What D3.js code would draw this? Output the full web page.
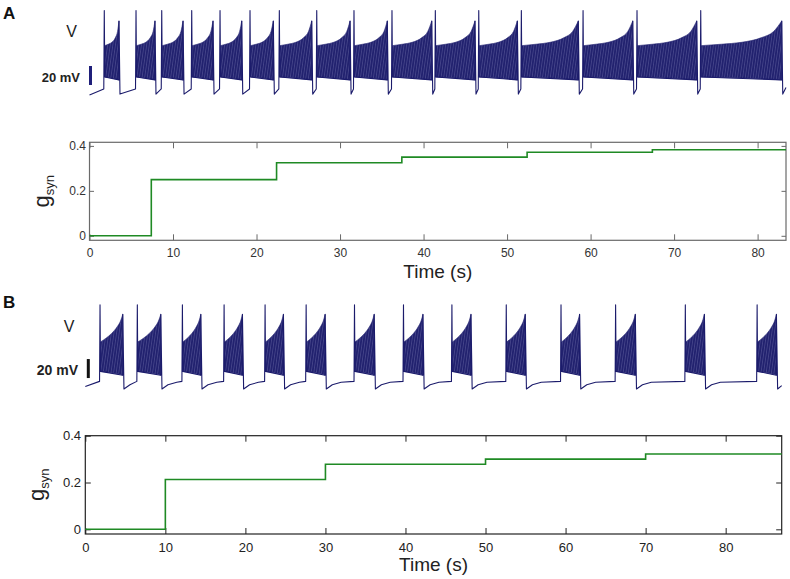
<!DOCTYPE html>
<html><head><meta charset="utf-8">
<script src="https://cdn.jsdelivr.net/npm/d3@7"></script>
<style>
html,body{margin:0;padding:0;background:#fff;}
svg{display:block;font-family:"Liberation Sans",Arial,Helvetica,sans-serif;}
</style></head>
<body>
<svg id="chart" width="790" height="579"></svg>
<script>
// ---------- DATA ----------
// Panel A: burst onset / offset times (s)
const burstOnA  = [1.77, 5.57, 8.65, 12.24, 15.63, 19.22, 22.73, 27.21, 31.67, 36.22, 41.41, 46.61, 51.71, 59.10, 65.56, 73.19];
const burstOffA = [3.53, 7.84, 11.20, 14.79, 18.23, 22.01, 26.61, 31.20, 35.66, 40.98, 46.16, 51.23, 58.53, 65.05, 72.71, 82.89];
// Panel B: burst onset / offset times (s)
const burstOnB  = [1.84, 6.50, 12.13, 17.34, 22.46, 27.59, 33.63, 39.75, 45.80, 52.59, 59.43, 66.25, 74.96, 83.93];
const burstOffB = [4.68, 9.43, 14.43, 19.63, 24.75, 29.96, 36.09, 42.18, 48.18, 54.96, 61.75, 68.71, 77.34, 86.34];
// burst envelope profile (fraction of burst duration) and envelope voltages (mV)
const bandFrac = [0, 0.25, 0.5, 0.75, 0.9, 1];
const bandTopA = [-7, -5.5, -3.5, 1.5, 8, 19];
const bandBotA = [-40, -40.5, -41, -42, -42.5, -43];
const bandTopB = [-9, -5, 0, 7, 13, 20];
const bandBotB = [-40, -40.5, -41.5, -42.5, -43, -44];
// characteristic voltages (mV)
const spikePeak = 30;
const vStartA = -59, vPreA = -52.6, vEndA = -51;
const vStartB = -56, vPreB = -50.5, vEndB = -55;
// inter-burst recovery: time after burst end (s) and voltage (mV)
const recovDtA = [0.12];
const recovVA  = [-58];
const recovDtB = [0.15, 0.9, 2.0];
const recovVB  = [-58.5, -54, -51.5];
const scaleBarMV = 20;
// synaptic conductance steps
const gStepTA = [0, 7.4, 22.4, 37.4, 52.4, 67.4];
const gValA   = [0, 0.25, 0.325, 0.35, 0.372, 0.383];
const gEndA = 83.4;
const gStepTB = [0, 10, 30, 50, 70];
const gValB   = [0, 0.213, 0.278, 0.300, 0.322];
const gEndB = 87;
// ticks
const xTicksA = [0, 10, 20, 30, 40, 50, 60, 70, 80];
const xTicksB = [0, 10, 20, 30, 40, 50, 60, 70, 80];
const yTicks = [0, 0.2, 0.4];

// ---------- DRAW ----------
const svg = d3.select("#chart");
const NAVY = "#1b1b6b";
const GREEN = "#1f8a24";

const defs = svg.append("defs");
const pat = defs.append("pattern").attr("id","spk").attr("patternUnits","userSpaceOnUse")
  .attr("width",2.6).attr("height",12).attr("patternTransform","skewX(-8)");
pat.append("rect").attr("width",2.6).attr("height",12).attr("fill","#22226f");
pat.append("rect").attr("x",1.8).attr("width",0.6).attr("height",12).attr("fill","#7c7cb2").attr("opacity",0.55);

function panel(cfg){
  const x = d3.scaleLinear().domain(cfg.xDom).range(cfg.xRange);
  const v = d3.scaleLinear().domain([-60, 30]).range(cfg.vRange);
  const y = d3.scaleLinear().domain(cfg.gDom).range(cfg.gRange);
  const g = svg.append("g");

  // ---- voltage trace ----
  const on = cfg.on, off = cfg.off;
  const pts = [[0, cfg.vStart]];
  for (let i = 0; i < on.length; i++){
    pts.push([on[i] - 0.06, cfg.vPre]);
    pts.push([on[i], spikePeak]);
    pts.push([on[i] + 0.06, cfg.bot[0]]);
    pts.push([off[i], cfg.bot[cfg.bot.length-1]]);
    pts.push([off[i], cfg.top[cfg.top.length-1]]);
    const next = i + 1 < on.length ? on[i+1] : cfg.xDom[1];
    cfg.recDt.forEach((dt, k) => {
      if (off[i] + dt < next - 0.1 || k === 0) pts.push([off[i] + dt, cfg.recV[k]]);
    });
    if (i + 1 >= on.length) pts.push([cfg.xDom[1], cfg.vEnd]);
  }
  // bands
  const area = d3.area().curve(d3.curveMonotoneX)
    .x(d => x(d.t)).y0(d => v(d.lo)).y1(d => v(d.hi));
  on.forEach((s, i) => {
    const e = off[i];
    const d = bandFrac.map((f, k) => ({t: s + 0.06 + f * (e - s - 0.06), lo: cfg.bot[k], hi: cfg.top[k]}));
    g.append("path").attr("d", area(d)).attr("fill", "url(#spk)").attr("stroke", NAVY).attr("stroke-width", 0.6);
  });
  g.append("path").attr("d", d3.line().x(d => x(d[0])).y(d => v(d[1]))(pts))
    .attr("fill","none").attr("stroke",NAVY).attr("stroke-width",1.1).attr("stroke-linejoin","round");

  // scale bar & labels
  g.append("line").attr("x1", cfg.barX).attr("x2", cfg.barX)
    .attr("y1", v(cfg.barLo)).attr("y2", v(cfg.barLo + scaleBarMV))
    .attr("stroke", cfg.barColor).attr("stroke-width", 3);
  g.append("text").attr("x", cfg.mvX).attr("y", cfg.mvY).attr("text-anchor","end")
    .attr("font-weight","bold").attr("font-size", cfg.mvSize).attr("fill","#222").text("20 mV");
  g.append("text").attr("x", cfg.vX).attr("y", cfg.vY).attr("text-anchor","middle")
    .attr("font-size", 16).attr("fill","#222").text("V");
  g.append("text").attr("x", 3).attr("y", cfg.letterY)
    .attr("font-weight","bold").attr("font-size", 17).attr("fill","#111").text(cfg.letter);

  // ---- g_syn axes ----
  const [x0, x1] = cfg.xRange, [yb, yt] = cfg.gRange;
  const ax = g.append("g").attr("color", cfg.axisColor);
  const fmt = d => d === 0 ? "0" : d.toFixed(1);
  ax.append("g").attr("transform", `translate(0,${yb})`)
    .call(d3.axisBottom(x).tickValues(cfg.xTicks).tickSizeInner(-cfg.tx).tickSizeOuter(0).tickPadding(cfg.xPad));
  ax.append("g").attr("transform", `translate(0,${yt})`)
    .call(d3.axisTop(x).tickValues(cfg.xTicks).tickSizeInner(-cfg.tx).tickSizeOuter(0).tickFormat(""));
  ax.append("g").attr("transform", `translate(${x0},0)`)
    .call(d3.axisLeft(y).tickValues(yTicks).tickSizeInner(-cfg.ty).tickSizeOuter(0).tickPadding(cfg.yPad).tickFormat(fmt));
  ax.append("g").attr("transform", `translate(${x1},0)`)
    .call(d3.axisRight(y).tickValues(yTicks).tickSizeInner(-cfg.ty).tickSizeOuter(0).tickFormat(""));
  ax.selectAll(".domain").remove();
  ax.selectAll("text").attr("fill", cfg.labelColor).attr("font-size", cfg.tickSize)
    .attr("font-family", '"Liberation Sans",Arial,Helvetica,sans-serif');
  ax.selectAll(".tick line").attr("stroke-width", 1);
  ax.append("rect").attr("x", x0).attr("y", yt).attr("width", x1 - x0).attr("height", yb - yt)
    .attr("fill","none").attr("stroke", cfg.axisColor).attr("stroke-width", 1.2);

  // step line
  const stepPts = cfg.gT.map((t, i) => [t, cfg.gV[i]]);
  stepPts.push([cfg.gEnd, cfg.gV[cfg.gV.length - 1]]);
  g.append("path").attr("d", d3.line().curve(d3.curveStepAfter).x(d => x(d[0])).y(d => y(d[1]))(stepPts))
    .attr("fill","none").attr("stroke", GREEN).attr("stroke-width", 1.6);

  g.append("text").attr("x", (x0 + x1) / 2).attr("y", cfg.timeY).attr("text-anchor","middle")
    .attr("font-size", 19).attr("fill","#222").text("Time (s)");
  const gl = g.append("text").attr("transform", `translate(${cfg.gLabX},${(yb + yt) / 2}) rotate(-90)`)
    .attr("text-anchor","middle").attr("fill","#222");
  gl.append("tspan").attr("font-size", 22).text("g");
  gl.append("tspan").attr("font-size", 13).attr("dy", 5).text("syn");
}

panel({
  letter: "A", letterY: 18.5,
  xDom: [0, 83.4], xRange: [89.5, 786], vRange: [96, 10.5],
  gDom: [-0.02, 0.416], gRange: [240.3, 142.3],
  on: burstOnA, off: burstOffA, top: bandTopA, bot: bandBotA,
  vStart: vStartA, vPre: vPreA, vEnd: vEndA, recDt: recovDtA, recV: recovVA,
  barX: 90.5, barLo: -48.4, barColor: "#1f1f7a",
  mvX: 80, mvY: 81.5, mvSize: 13, vX: 71.5, vY: 37,
  axisColor: "#6a6a6a", labelColor: "#333", tickSize: 12, tx: 6, ty: 4.5, xPad: 8, yPad: 3.5,
  xTicks: xTicksA, gT: gStepTA, gV: gValA, gEnd: gEndA,
  timeY: 278, gLabX: 49
});
panel({
  letter: "B", letterY: 308,
  xDom: [0, 87], xRange: [85.3, 781.7], vRange: [390.4, 304.9],
  gDom: [-0.02, 0.4], gRange: [534, 435.7],
  on: burstOnB, off: burstOffB, top: bandTopB, bot: bandBotB,
  vStart: vStartB, vPre: vPreB, vEnd: vEndB, recDt: recovDtB, recV: recovVB,
  barX: 88.3, barLo: -47, barColor: "#111",
  mvX: 78, mvY: 375, mvSize: 14, vX: 69, vY: 332,
  axisColor: "#222", labelColor: "#222", tickSize: 13, tx: 6, ty: 5.5, xPad: 8.5, yPad: 4.3,
  xTicks: xTicksB, gT: gStepTB, gV: gValB, gEnd: gEndB,
  timeY: 571, gLabX: 44
});
</script>
</body></html>
